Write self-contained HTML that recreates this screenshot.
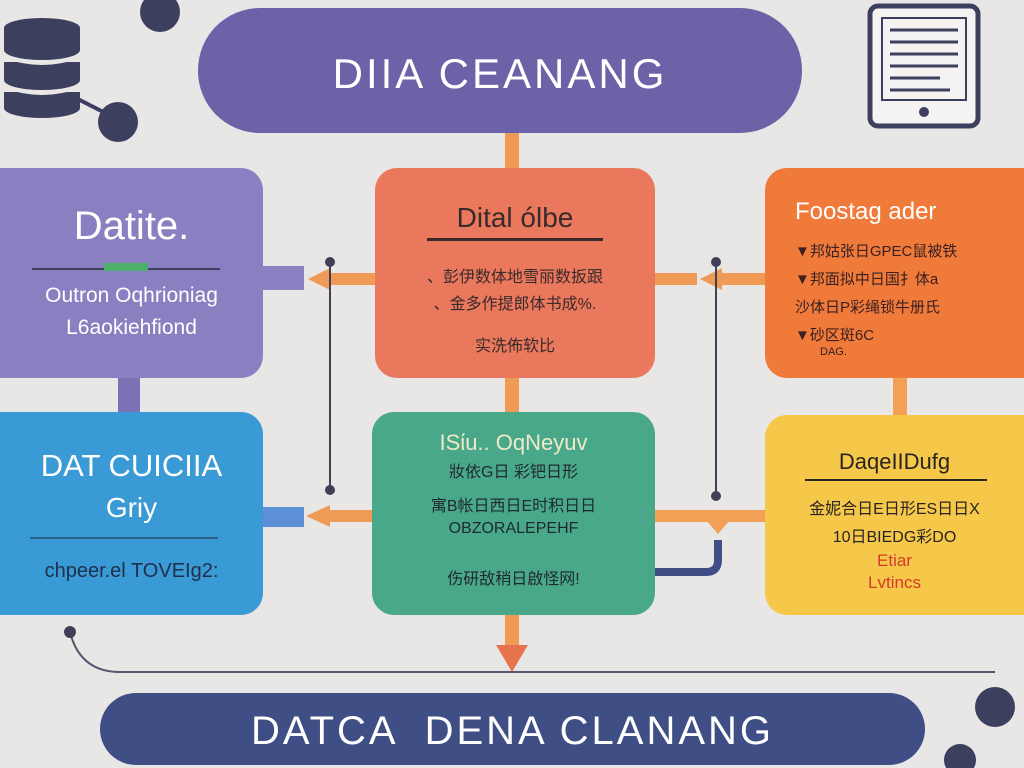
<!DOCTYPE html>
<html><head><meta charset="utf-8">
<style>
html,body{margin:0;padding:0}
body{width:1024px;height:768px;position:relative;overflow:hidden;background:#e9e7e6;font-family:"Liberation Sans","Noto Sans CJK SC",sans-serif}
.b{position:absolute;box-sizing:border-box;text-align:center}
.t{position:absolute;left:0;right:0;text-align:center;white-space:nowrap}
</style></head><body>
<svg width="1024" height="768" style="position:absolute;left:0;top:0">
 <rect x="505" y="130" width="14" height="40" fill="#ef9a55"/>
 <rect x="505" y="378" width="14" height="36" fill="#ef9a55"/>
 <rect x="505" y="612" width="14" height="36" fill="#ef9a55"/>
 <polygon points="496,645 528,645 512,672" fill="#e8744f"/>
 <rect x="118" y="376" width="22" height="38" fill="#7b72b5"/>
 <rect x="893" y="376" width="14" height="40" fill="#f2a055"/>
 <rect x="260" y="266" width="44" height="24" fill="#8a7fc0"/>
 <rect x="320" y="273" width="56" height="12" fill="#ef9a55"/>
 <polygon points="308,279 330,268 330,290" fill="#ef9a55"/>
 <rect x="655" y="273" width="42" height="12" fill="#ef9a55"/>
 <rect x="716" y="273" width="50" height="12" fill="#ef9a55"/>
 <polygon points="700,279 722,268 722,290" fill="#ef9a55"/>
 <rect x="262" y="507" width="42" height="20" fill="#5b8fd6"/>
 <rect x="320" y="510" width="55" height="12" fill="#ef9a55"/>
 <polygon points="306,516 330,505 330,527" fill="#ef9a55"/>
 <rect x="655" y="510" width="110" height="12" fill="#f2a055"/>
 <polygon points="706,520 730,520 718,534" fill="#f2a055"/>
 <path d="M718 540 V560 Q718 572 706 572 H655" stroke="#3f4f86" stroke-width="8" fill="none"/>
 <line x1="330" y1="262" x2="330" y2="490" stroke="#3f4058" stroke-width="2"/>
 <circle cx="330" cy="262" r="5" fill="#3f4058"/><circle cx="330" cy="490" r="5" fill="#3f4058"/>
 <line x1="716" y1="262" x2="716" y2="496" stroke="#3f4058" stroke-width="2"/>
 <circle cx="716" cy="262" r="5" fill="#3f4058"/><circle cx="716" cy="496" r="5" fill="#3f4058"/>
 <path d="M70 632 Q80 672 120 672 H995" stroke="#55566e" stroke-width="2" fill="none"/>
 <circle cx="70" cy="632" r="6" fill="#3f4058"/>
 <circle cx="995" cy="707" r="20" fill="#3d3f5e"/>
 <circle cx="960" cy="760" r="16" fill="#3d3f5e"/>
 <circle cx="160" cy="12" r="20" fill="#3d3f5e"/>
 <g fill="#3d3f5e">
  <rect x="4" y="28" width="76" height="22"/><ellipse cx="42" cy="28" rx="38" ry="10"/><ellipse cx="42" cy="50" rx="38" ry="10"/>
  <rect x="4" y="62" width="76" height="18"/><ellipse cx="42" cy="80" rx="38" ry="10"/>
  <rect x="4" y="92" width="76" height="16"/><ellipse cx="42" cy="108" rx="38" ry="10"/>
 </g>
 <path d="M4 56 Q42 70 80 56 M4 86 Q42 100 80 86" stroke="#e9e7e6" stroke-width="4" fill="none"/>
 <line x1="70" y1="95" x2="115" y2="118" stroke="#3d3f5e" stroke-width="4"/>
 <circle cx="118" cy="122" r="20" fill="#3d3f5e"/>
 <rect x="870" y="6" width="108" height="120" rx="8" fill="#f4f3f2" stroke="#3d3f5e" stroke-width="5"/>
 <rect x="882" y="18" width="84" height="82" fill="#f4f3f2" stroke="#3d3f5e" stroke-width="2"/>
 <g stroke="#3d3f5e" stroke-width="3">
  <line x1="890" y1="30" x2="958" y2="30"/><line x1="890" y1="42" x2="958" y2="42"/>
  <line x1="890" y1="54" x2="958" y2="54"/><line x1="890" y1="66" x2="958" y2="66"/>
  <line x1="890" y1="78" x2="940" y2="78"/><line x1="890" y1="90" x2="950" y2="90"/></g>
 <circle cx="924" cy="112" r="5" fill="#3d3f5e"/>
</svg>

<div class="b" style="left:198px;top:8px;width:604px;height:125px;border-radius:62px;background:#6b62a8">
 <div class="t" style="top:42px;font-size:42px;color:#fff;letter-spacing:3px">DIIA CEANANG</div></div>

<div class="b" style="left:0;top:168px;width:263px;height:210px;border-radius:0 22px 22px 0;background:#8a7fc0;color:#fff">
 <div class="t" style="top:36px;font-size:40px">Datite.</div>
 <div style="position:absolute;left:32px;top:100px;width:188px;height:2px;background:#3d3f5e"></div>
 <div style="position:absolute;left:104px;top:95px;width:44px;height:8px;background:#4caf6a"></div>
 <div class="t" style="top:116px;font-size:21px">Outron Oqhrioniag</div>
 <div class="t" style="top:148px;font-size:21px">L6aokiehfiond</div></div>

<div class="b" style="left:375px;top:168px;width:280px;height:210px;border-radius:22px;background:#e9785d;color:#3a2a2a">
 <div class="t" style="top:34px;font-size:28px">Dital ólbe</div>
 <div style="position:absolute;left:52px;top:70px;width:176px;height:3px;background:#3a2a2a"></div>
 <div class="t" style="top:95px;font-size:16px">、彭伊数体地雪丽数扳跟</div>
 <div class="t" style="top:122px;font-size:16px">、金多作提郎体书成%.</div>
 <div class="t" style="top:164px;font-size:16px">实洗佈软比</div></div>

<div class="b" style="left:765px;top:168px;width:259px;height:210px;border-radius:22px 0 0 22px;background:#ef7a3a;color:#fff;text-align:left">
 <div style="position:absolute;left:30px;top:30px;font-size:24px">Foostag ader</div>
 <div style="position:absolute;left:30px;top:70px;font-size:15px;color:#3a2020;line-height:28px">▼邦姑张日GPEC鼠被铁<br>▼邦面拟中日国扌体a<br>沙体日P彩绳锁牛册氏<br>▼砂区斑6C</div>
 <div style="position:absolute;left:55px;top:178px;font-size:11px;color:#3a2020">DAG.</div></div>

<div class="b" style="left:0;top:412px;width:263px;height:203px;border-radius:0 22px 22px 0;background:#3a9ad6;color:#fff">
 <div class="t" style="top:36px;font-size:31px">DAT CUICIIA</div>
 <div class="t" style="top:80px;font-size:28px">Griy</div>
 <div style="position:absolute;left:30px;top:125px;width:188px;height:2px;background:#2a5d8a"></div>
 <div class="t" style="top:148px;font-size:20px;color:#1f2f4a">chpeer.el TOVEIg2:</div></div>

<div class="b" style="left:372px;top:412px;width:283px;height:203px;border-radius:22px;background:#4aa88a;color:#1e2a2a">
 <div class="t" style="top:18px;font-size:22px;color:#f0e9c8">ISίu.. OqNeyuv</div>
 <div class="t" style="top:46px;font-size:16px">妝依G日 彩钯日形</div>
 <div class="t" style="top:80px;font-size:16px">寓B帐日西日E时积日日</div>
 <div class="t" style="top:108px;font-size:16px">OBZORALEPEHF</div>
 <div class="t" style="top:153px;font-size:16px">伤研敌稍日啟怪网!</div></div>

<div class="b" style="left:765px;top:415px;width:259px;height:200px;border-radius:22px 0 0 22px;background:#f5c84a;color:#2a2420">
 <div class="t" style="top:34px;font-size:22px">DaqeIIDufg</div>
 <div style="position:absolute;left:40px;top:64px;width:182px;height:2px;background:#2a2420"></div>
 <div class="t" style="top:80px;font-size:16px">金妮合日E日形ES日日X</div>
 <div class="t" style="top:108px;font-size:16px">10日BIEDG彩DO</div>
 <div class="t" style="top:136px;font-size:17px;color:#d63a2a">Etiar</div>
 <div class="t" style="top:158px;font-size:17px;color:#d63a2a">Lvtincs</div></div>

<div class="b" style="left:100px;top:693px;width:825px;height:72px;border-radius:36px;background:#3f4f86">
 <div class="t" style="top:16px;font-size:40px;color:#fff;letter-spacing:3px">DATCA &nbsp;DENA CLANANG</div></div>
</body></html>
